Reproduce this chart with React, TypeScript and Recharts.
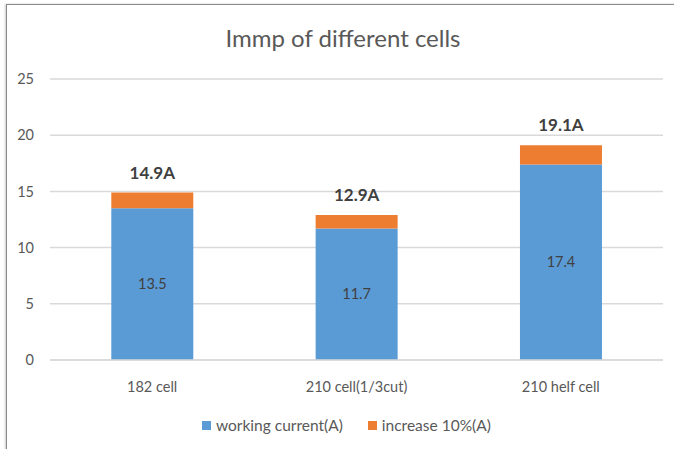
import { Bar, BarChart, CartesianGrid, LabelList, XAxis, YAxis } from 'recharts'

const categories = ['182 cell', '210 cell(1/3cut)', '210 helf cell']
const workingCurrent = [13.5, 11.7, 17.4]
const increase = [1.4, 1.2, 1.7]
const yTicks = [0, 5, 10, 15, 20, 25]
const seriesNames = ['working current(A)', 'increase 10%(A)']
const seriesColors = ['#5B9BD5', '#ED7D31']

const data = categories.map((name, i) => ({
  name,
  working: workingCurrent[i],
  increase: increase[i],
  total: Math.round((workingCurrent[i] + increase[i]) * 10) / 10,
}))

const FONT = 'Lato, "Open Sans", sans-serif'

function TotalLabel(props: any) {
  const { x, y, width, index } = props
  return (
    <text
      x={x + width / 2}
      y={y - 14}
      textAnchor="middle"
      fontFamily={FONT}
      fontWeight={700}
      fontSize={17}
      fill="#404040"
    >
      {data[index].total.toFixed(1)}A
    </text>
  )
}

export default function App() {
  return (
    <div
      style={{
        position: 'absolute',
        left: 0,
        top: 0,
        width: 674,
        height: 449,
        background: '#fff',
        overflow: 'hidden',
        fontFamily: FONT,
      }}
    >
      <div
        style={{
          position: 'absolute',
          left: 6,
          top: 4,
          width: 700,
          height: 500,
          border: '1px solid #8a8a8a',
          boxShadow: '-1px 0 2px #ccc',
        }}
      />
      <div
        style={{
          position: 'absolute',
          left: 0,
          top: 23,
          width: 686,
          textAlign: 'center',
          fontSize: 24,
          color: '#595959',
        }}
      >
        Immp of different cells
      </div>
      <div style={{ position: 'absolute', left: 0, top: 0 }}>
        <BarChart
          width={674}
          height={449}
          data={data}
          margin={{ top: 79, right: 11, left: 0, bottom: 59 }}
          barCategoryGap="30%"
        >
          <CartesianGrid vertical={false} stroke="#d9d9d9" strokeWidth={1.5} />
          <XAxis
            dataKey="name"
            height={30}
            axisLine={{ stroke: '#d9d9d9', strokeWidth: 1.5 }}
            tickLine={false}
            tickMargin={16}
            tick={{ fill: '#595959', fontSize: 14.5, fontFamily: FONT }}
          />
          <YAxis
            width={50}
            domain={[0, 25]}
            ticks={yTicks}
            axisLine={false}
            tickLine={false}
            tickMargin={10}
            tick={{ fill: '#595959', fontSize: 14.5, fontFamily: FONT }}
          />
          <Bar
            dataKey="working"
            name={seriesNames[0]}
            stackId="a"
            fill={seriesColors[0]}
            isAnimationActive={false}
          >
            <LabelList
              dataKey="working"
              position="center"
              fill="#404040"
              fontSize={14.5}
              fontFamily={FONT}
            />
          </Bar>
          <Bar
            dataKey="increase"
            name={seriesNames[1]}
            stackId="a"
            fill={seriesColors[1]}
            isAnimationActive={false}
          >
            <LabelList dataKey="total" content={TotalLabel} />
          </Bar>
        </BarChart>
      </div>
      <div
        style={{
          position: 'absolute',
          left: 202,
          top: 416,
          display: 'flex',
          alignItems: 'center',
          fontSize: 15.5,
          color: '#595959',
        }}
      >
        {seriesNames.map((n, i) => (
          <div key={n} style={{ display: 'flex', alignItems: 'center', marginRight: 25 }}>
            <span
              style={{
                display: 'inline-block',
                width: 9,
                height: 9,
                background: seriesColors[i],
                marginRight: 5,
              }}
            />
            {n}
          </div>
        ))}
      </div>
    </div>
  )
}
